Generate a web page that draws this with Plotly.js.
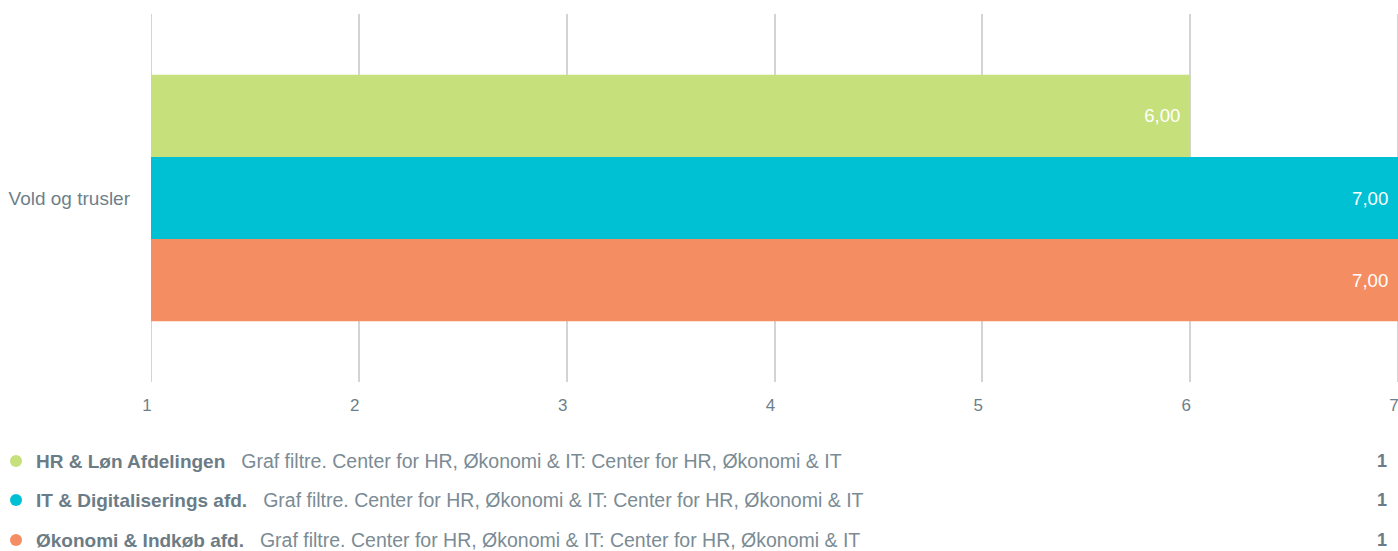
<!DOCTYPE html>
<html>
<head>
<meta charset="utf-8">
<script src="https://cdn.plot.ly/plotly-3.0.1.min.js"></script>
<style>
  html, body { margin: 0; padding: 0; background: #fff; }
  #chart { width: 1398px; height: 551px; }
</style>
</head>
<body>
<div id="chart"></div>
<script>
// chart data
const categories = ['Vold og trusler'];
const seriesNames = ['HR & Løn Afdelingen', 'IT & Digitaliserings afd.', 'Økonomi & Indkøb afd.'];
const seriesValues = [6, 7, 7];
const seriesColors = ['#c6e07b', '#00c0d3', '#f58d62'];
const filterText = 'Graf filtre. Center for HR, Økonomi & IT: Center for HR, Økonomi & IT';
const respondentCounts = [1, 1, 1];
const xTicks = [1, 2, 3, 4, 5, 6, 7];

const FONT = 'Liberation Sans, Arial, sans-serif';
const W = 1398, ML = 151;
const GRID = '#d4d4d4';

const traces = seriesNames.map((name, i) => ({
    type: 'bar',
    orientation: 'h',
    name: name,
    y: categories,
    x: [seriesValues[i]],
    marker: { color: seriesColors[i] },
    texttemplate: '%{x:.2f}\u00a0\u200a',
    textposition: 'inside',
    insidetextanchor: 'end',
    textfont: { color: '#ffffff', size: 18.6, family: FONT },
    hoverinfo: 'none'
}));

// legend rows drawn below the plot
const rowY = [461, 500, 540];
const plotBottom = 382;
const annotations = [];
const shapes = [];
seriesNames.forEach((name, i) => {
    const shift = -(rowY[i] - plotBottom);
    annotations.push({
        xref: 'paper', yref: 'paper', x: (34 - ML) / (W - ML), y: 0,
        xanchor: 'left', yanchor: 'middle', yshift: shift, showarrow: false,
        text: '<b>' + name + '</b>\u00a0\u00a0<span style="color:#7b8b94;font-size:19.5px">\u00a0' + filterText + '</span>',
        font: { size: 19, color: '#6b7c86', family: FONT }
    });
    annotations.push({
        xref: 'paper', yref: 'paper', x: 1, y: 0,
        xanchor: 'right', yanchor: 'middle', yshift: shift, xshift: -9, showarrow: false,
        text: '<b>' + respondentCounts[i] + '</b>',
        font: { size: 18, color: '#6b7c86', family: FONT }
    });
    shapes.push({
        type: 'circle', xref: 'paper', yref: 'paper',
        xsizemode: 'pixel', ysizemode: 'pixel',
        xanchor: (16 - ML) / (W - ML), yanchor: 0,
        x0: -6, x1: 6, y0: shift - 6, y1: shift + 6,
        fillcolor: seriesColors[i], line: { width: 0 }
    });
});

// Plotly drops gridlines at the plot edges, so draw the outer two ourselves
[xTicks[0], xTicks[xTicks.length - 1]].forEach(v => {
    shapes.push({
        type: 'line', xref: 'x', yref: 'paper', layer: 'below',
        x0: v, x1: v, y0: 0, y1: 1,
        line: { color: GRID, width: 2 }
    });
});

const layout = {
    width: W,
    height: 551,
    margin: { l: ML, r: 0, t: 14, b: 169 },
    paper_bgcolor: '#ffffff',
    plot_bgcolor: '#ffffff',
    barmode: 'group',
    bargap: 0.33,
    bargroupgap: 0,
    showlegend: false,
    separators: ',.',
    font: { family: FONT, color: '#6e7f8a', size: 17 },
    xaxis: {
        range: [1, 7],
        tickvals: xTicks,
        ticktext: xTicks.map(String),
        showgrid: true,
        gridcolor: GRID,
        gridwidth: 2,
        zeroline: false,
        showline: false,
        ticks: '',
        ticklabelstandoff: 11,
        ticklabelshift: -4,
        ticklabeloverflow: 'allow',
        tickfont: { size: 17, color: '#6e7f8a' },
        fixedrange: true
    },
    yaxis: {
        autorange: 'reversed',
        showgrid: false,
        zeroline: false,
        showline: false,
        ticks: '',
        ticklabelstandoff: 20,
        tickfont: { size: 19, color: '#6e7f8a' },
        fixedrange: true
    },
    annotations: annotations,
    shapes: shapes
};

Plotly.newPlot('chart', traces, layout, { displayModeBar: false, staticPlot: true });
</script>
</body>
</html>
